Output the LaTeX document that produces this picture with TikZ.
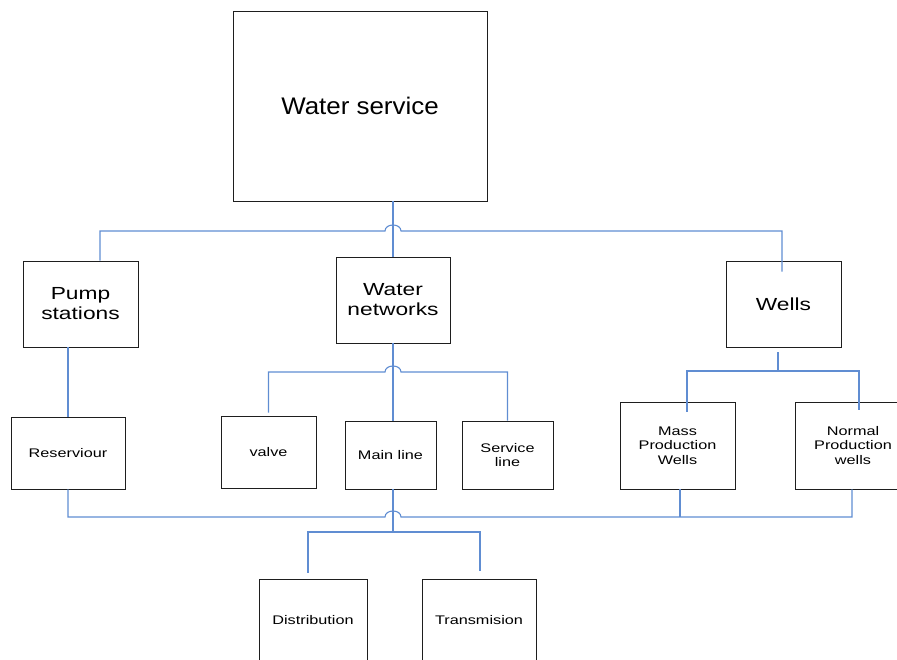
\documentclass[tikz,border=0pt]{standalone}
\usepackage{fontspec}
\setmainfont{Liberation Sans}
\newfontfamily\wfa[FakeStretch=1.08]{Liberation Sans}
\newfontfamily\wfb[FakeStretch=1.3]{Liberation Sans}
\usetikzlibrary{calc}
\definecolor{conncol}{RGB}{96,141,210}
\definecolor{boxcol}{RGB}{30,30,30}
\begin{document}
\begin{tikzpicture}[x=1pt,y=-1pt,
  box/.style={draw=boxcol, line width=0.9pt, fill=white, align=center, inner sep=0pt},
  conn/.style={draw=conncol, line width=1.1pt},
  big/.style={font=\wfa\fontsize{24}{28}\selectfont},
  mid/.style={font=\wfb\fontsize{17.5}{20}\selectfont},
  small/.style={font=\wfb\fontsize{12.5}{14.5}\selectfont}]
\useasboundingbox (0,0) rectangle (897,659);
\clip (0,0) rectangle (897,659);
% boxes
\node[box, big, minimum width=254pt, minimum height=190pt] (ws) at (360,106) {Water service};
\node[box, mid, minimum width=115pt, minimum height=86pt] (ps) at (80.5,304) {Pump\\stations};
\node[box, mid, minimum width=114pt, minimum height=86pt] (nw) at (393,300) {Water\\networks};
\node[box, mid, minimum width=115pt, minimum height=86pt] (we) at (783.5,304) {Wells};
\node[box, small, minimum width=114pt, minimum height=72pt] (rs) at (68,453) {Reserviour};
\node[box, small, minimum width=95pt, minimum height=72pt] (va) at (268.5,452) {valve};
\node[box, small, minimum width=91pt, minimum height=68pt] (ml) at (390.5,455) {Main line};
\node[box, small, minimum width=91pt, minimum height=68pt] (sl) at (507.5,455) {Service\\line};
\node[box, small, minimum width=115pt, minimum height=87pt] (mp) at (677.5,445.5) {Mass\\Production\\Wells};
\node[box, small, minimum width=116pt, minimum height=87pt] (np) at (853,445.5) {Normal\\Production\\wells};
\node[box, small, minimum width=108pt, minimum height=83pt] (di) at (313,620.5) {Distribution};
\node[box, small, minimum width=114pt, minimum height=83pt] (tr) at (479,620.5) {Transmision};
% connectors
\draw[conn] (nw.north |- ws.south) -- (nw.north);
\draw[conn] ([xshift=19.5pt]ps.north) |- (385,231) .. controls (385,223) and (401,223) .. (401,231) -| ([xshift=-1.5pt,yshift=-11pt]we.north);
\draw[conn] (rs.north |- ps.south) -- (rs.north);
\draw[conn] (nw.south) -- (nw.south |- ml.north);
\draw[conn] ([yshift=3pt]va.north) |- (385,372) .. controls (385,364) and (401,364) .. (401,372) -| (sl.north);
\draw[conn] ([xshift=-5.5pt,yshift=-5pt]we.south) -- (778,371);
\draw[conn] ([xshift=9.5pt,yshift=-10pt]mp.north) |- (859,371) -- ([xshift=6pt,yshift=-8pt]np.north);
\draw[conn] (rs.south) |- (385,517) .. controls (385,509) and (401,509) .. (401,517) -| ([xshift=-1pt]np.south);
\draw[conn] ([xshift=2.5pt]mp.south) -- ($(mp.south)+(2.5,28)$);
\draw[conn] (nw.south |- ml.south) -- (393,532);
\draw[conn] ([xshift=-5pt,yshift=6pt]di.north) |- (480,532) -- ([xshift=1pt,yshift=8pt]tr.north);
\end{tikzpicture}
\end{document}
